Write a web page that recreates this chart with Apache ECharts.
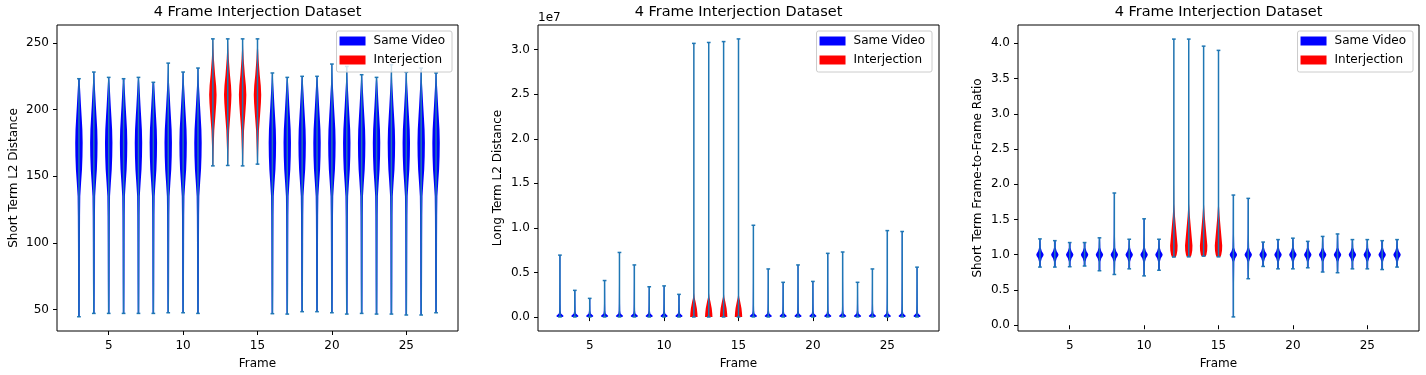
<!DOCTYPE html>
<html>
<head>
<meta charset="utf-8">
<script src="https://cdn.jsdelivr.net/npm/echarts@6/dist/echarts.min.js"></script>
<style>
html, body { margin: 0; padding: 0; background: #fff; }
#chart { width: 1426px; height: 375px; }
</style>
</head>
<body>
<div id="chart"></div>
<script>
// frames on the x axis, frames 12-15 are the interjected ones
const frames = [3, 4, 5, 6, 7, 8, 9, 10, 11, 12, 13, 14, 15, 16, 17, 18, 19, 20, 21, 22, 23, 24, 25, 26, 27]
const interFrames = [12, 13, 14, 15]
const frameTicks = [5, 10, 15, 20, 25]

// short term L2 distance: min / max per frame
const shortMin = [44.5, 47, 47, 47, 47, 47, 47.5, 47.5, 47, 157.7, 158, 157.7, 159, 46.8, 46.5, 48.3, 48.3, 47.5, 46.5, 47, 46.5, 46.5, 45.8, 45.8, 47.5]
const shortMax = [223.1, 228.1, 224.1, 223.1, 224.1, 220.4, 234.8, 228.1, 231.1, 253, 253, 253, 253, 227.4, 224.1, 224.9, 224.9, 234.1, 232.3, 226.1, 224.1, 233.6, 227.9, 231.1, 227.4]
const shortTicks = [50, 100, 150, 200, 250]
// violin outline: [value, relative half width]
const shortSameShape = [[44, 0.2], [70, 0.24], [100, 0.27], [120, 0.3], [135, 0.36], [145, 0.58], [155, 0.82], [165, 0.95], [175, 1.0], [185, 0.92], [195, 0.72], [203, 0.55], [212, 0.38], [220, 0.22], [228, 0.12], [236, 0.06]]
const shortInterShape = [[157, 0.1], [170, 0.2], [184, 0.38], [196, 0.7], [205, 0.92], [211, 1.0], [218, 0.88], [226, 0.6], [238, 0.28], [246, 0.14], [253, 0.06]]

// long term L2 distance
const longMin = [1.5e4, 1.2e4, 1.0e4, 1.2e4, 1.5e4, 1.3e4, 1.1e4, 1.0e4, 1.0e4, 1.0e4, 1.0e4, 1.0e4, 1.0e4, 1.6e4, 1.2e4, 1.1e4, 1.2e4, 1.1e4, 1.3e4, 1.4e4, 1.1e4, 1.2e4, 1.8e4, 1.8e4, 1.2e4]
const longMax = [6.95e6, 3.0e6, 2.1e6, 4.1e6, 7.25e6, 5.85e6, 3.4e6, 3.5e6, 2.55e6, 3.07e7, 3.08e7, 3.09e7, 3.12e7, 1.03e7, 5.4e6, 3.9e6, 5.85e6, 4.0e6, 7.15e6, 7.3e6, 3.9e6, 5.4e6, 9.7e6, 9.6e6, 5.6e6]
const longTicks = [0, 0.5e7, 1.0e7, 1.5e7, 2.0e7, 2.5e7, 3.0e7]
const longSameShape = [[0, 0.75], [1.2e5, 1.0], [2.5e5, 0.65], [4e5, 0.3], [7e5, 0.2], [1.5e6, 0.16], [4e6, 0.12], [1e7, 0.1]]
const longInterShape = [[0, 1.0], [4e5, 0.95], [1.0e6, 0.8], [1.75e6, 0.45], [2.2e6, 0.2], [2.7e6, 0.07], [6e6, 0.03]]

// short term frame-to-frame ratio
const ratioMin = [0.825, 0.825, 0.83, 0.84, 0.773, 0.72, 0.8, 0.7, 0.78, 0.967, 0.97, 0.98, 0.97, 0.118, 0.66, 0.834, 0.8, 0.8, 0.815, 0.755, 0.745, 0.8, 0.8, 0.79, 0.825]
const ratioMax = [1.225, 1.2, 1.173, 1.173, 1.24, 1.876, 1.22, 1.51, 1.22, 4.06, 4.06, 3.96, 3.9, 1.847, 1.8, 1.18, 1.215, 1.235, 1.19, 1.26, 1.295, 1.215, 1.215, 1.2, 1.215]
const ratioTicks = [0, 0.5, 1.0, 1.5, 2.0, 2.5, 3.0, 3.5, 4.0]
const ratioSameShape = [[0.1, 0.15], [0.6, 0.17], [0.9, 0.24], [0.95, 0.5], [0.98, 0.85], [1.0, 1.0], [1.02, 0.85], [1.05, 0.5], [1.1, 0.24], [1.3, 0.16], [2.0, 0.12]]
const ratioInterShape = [[0.97, 0.55], [1.0, 0.75], [1.06, 0.95], [1.13, 1.0], [1.22, 0.85], [1.37, 0.6], [1.55, 0.3], [1.72, 0.1], [2.0, 0.05], [4.1, 0.03]]

const FONT = "'DejaVu Sans', sans-serif"
const BODY_SAME = "#0000ff"
const BODY_INTER = "#ff0000"
const BAR = "#1f77b4"
const HALF = 0.25 // half of the violin width (matplotlib widths=0.5)
const CAP = 0.125

const panels = [
  { left: 57, yName: "Short Term L2 Distance", nameGap: 37, yMin: 33.8, yMax: 263.4, ticks: shortTicks, lo: shortMin, hi: shortMax, same: shortSameShape, inter: shortInterShape, fmt: v => String(v), legendRight: 974 },
  { left: 538, yName: "Long Term L2 Distance", nameGap: 34, yMin: -1.56e6, yMax: 3.276e7, ticks: longTicks, lo: longMin, hi: longMax, same: longSameShape, inter: longInterShape, fmt: v => (v / 1e7).toFixed(1), legendRight: 494 },
  { left: 1018, yName: "Short Term Frame-to-Frame Ratio", nameGap: 34, yMin: -0.082, yMax: 4.26, ticks: ratioTicks, lo: ratioMin, hi: ratioMax, same: ratioSameShape, inter: ratioInterShape, fmt: v => v.toFixed(1), legendRight: 13 }
]
const W = 401
const H = 308
const TOP = 25

const violinRender = (shape, color) => (params, api) => {
  const x = api.value(0)
  const lo = api.value(1)
  const hi = api.value(2)
  const near = v => shape.reduce((b, p) => (Math.abs(p[0] - v) < Math.abs(b[0] - v) ? p : b))[1]
  const prof = [[lo, near(lo)]].concat(shape.filter(p => p[0] > lo && p[0] < hi), [[hi, near(hi)]])
  const leftSide = prof.map(p => api.coord([x - p[1] * HALF, p[0]]))
  const rightSide = prof.slice().reverse().map(p => api.coord([x + p[1] * HALF, p[0]]))
  const top = api.coord([x, hi])
  const bot = api.coord([x, lo])
  const cl = api.coord([x - CAP, hi])[0]
  const cr = api.coord([x + CAP, hi])[0]
  const lineStyle = { stroke: BAR, lineWidth: 1.5 }
  return {
    type: "group",
    children: [
      { type: "polygon", shape: { points: leftSide.concat(rightSide) }, style: { fill: color } },
      { type: "line", shape: { x1: top[0], y1: top[1], x2: bot[0], y2: bot[1] }, style: lineStyle },
      { type: "line", shape: { x1: cl, y1: top[1], x2: cr, y2: top[1] }, style: lineStyle },
      { type: "line", shape: { x1: cl, y1: bot[1], x2: cr, y2: bot[1] }, style: lineStyle }
    ]
  }
}

const grids = []
const xAxes = []
const yAxes = []
const series = []
const titles = []
const legends = []
panels.forEach((p, i) => {
  grids.push({ left: p.left, top: TOP, width: W, height: H, show: true, borderColor: "#000", borderWidth: 1, backgroundColor: "transparent" })
  titles.push({
    text: "4 Frame Interjection Dataset",
    left: p.left + W / 2,
    textAlign: "center",
    top: 5,
    padding: 0,
    textStyle: { fontFamily: FONT, fontSize: 14.5, fontWeight: "normal", color: "#000" }
  })
  xAxes.push({
    type: "value",
    gridIndex: i,
    min: 1.525,
    max: 28.475,
    name: "Frame",
    nameLocation: "middle",
    nameGap: 27,
    nameTextStyle: { fontFamily: FONT, fontSize: 12, color: "#000" },
    axisLine: { show: false },
    splitLine: { show: false },
    axisTick: { show: true, customValues: frameTicks, length: 4, lineStyle: { color: "#000", width: 1 } },
    axisLabel: { customValues: frameTicks, margin: 9, fontFamily: FONT, fontSize: 12, color: "#000" }
  })
  yAxes.push({
    type: "value",
    gridIndex: i,
    min: p.yMin,
    max: p.yMax,
    name: p.yName,
    nameLocation: "middle",
    nameGap: p.nameGap,
    nameTextStyle: { fontFamily: FONT, fontSize: 12, color: "#000" },
    axisLine: { show: false },
    splitLine: { show: false },
    axisTick: { show: true, customValues: p.ticks, length: 4, lineStyle: { color: "#000", width: 1 } },
    axisLabel: { customValues: p.ticks, margin: 8, fontFamily: FONT, fontSize: 12, color: "#000", formatter: p.fmt }
  })
  const rows = frames.map((f, k) => [f, p.lo[k], p.hi[k]])
  series.push({
    type: "custom",
    name: "Same Video",
    xAxisIndex: i,
    yAxisIndex: i,
    itemStyle: { color: BODY_SAME },
    renderItem: violinRender(p.same, BODY_SAME),
    encode: { x: 0, y: [1, 2] },
    data: rows.filter(r => interFrames.indexOf(r[0]) < 0)
  })
  series.push({
    type: "custom",
    name: "Interjection",
    xAxisIndex: i,
    yAxisIndex: i,
    itemStyle: { color: BODY_INTER },
    renderItem: violinRender(p.inter, BODY_INTER),
    encode: { x: 0, y: [1, 2] },
    data: rows.filter(r => interFrames.indexOf(r[0]) >= 0)
  })
  legends.push({
    data: ["Same Video", "Interjection"],
    orient: "vertical",
    right: p.legendRight,
    top: 31,
    icon: "rect",
    itemWidth: 26,
    itemHeight: 9,
    itemGap: 5,
    padding: [3, 7, 5, 3],
    backgroundColor: "rgba(255,255,255,0.8)",
    borderColor: "#cccccc",
    borderWidth: 1,
    borderRadius: 2,
    selectedMode: false,
    textStyle: { fontFamily: FONT, fontSize: 12, color: "#000", lineHeight: 14, padding: [0, 0, 0, 3] }
  })
})

const chart = echarts.init(document.getElementById("chart"))
chart.setOption({
  animation: false,
  backgroundColor: "#fff",
  title: titles,
  legend: legends,
  grid: grids,
  xAxis: xAxes,
  yAxis: yAxes,
  series: series,
  graphic: [
    { type: "text", left: 538, top: 12, style: { text: "1e7", font: "12px " + FONT, fill: "#000" } }
  ]
})
</script>
</body>
</html>
